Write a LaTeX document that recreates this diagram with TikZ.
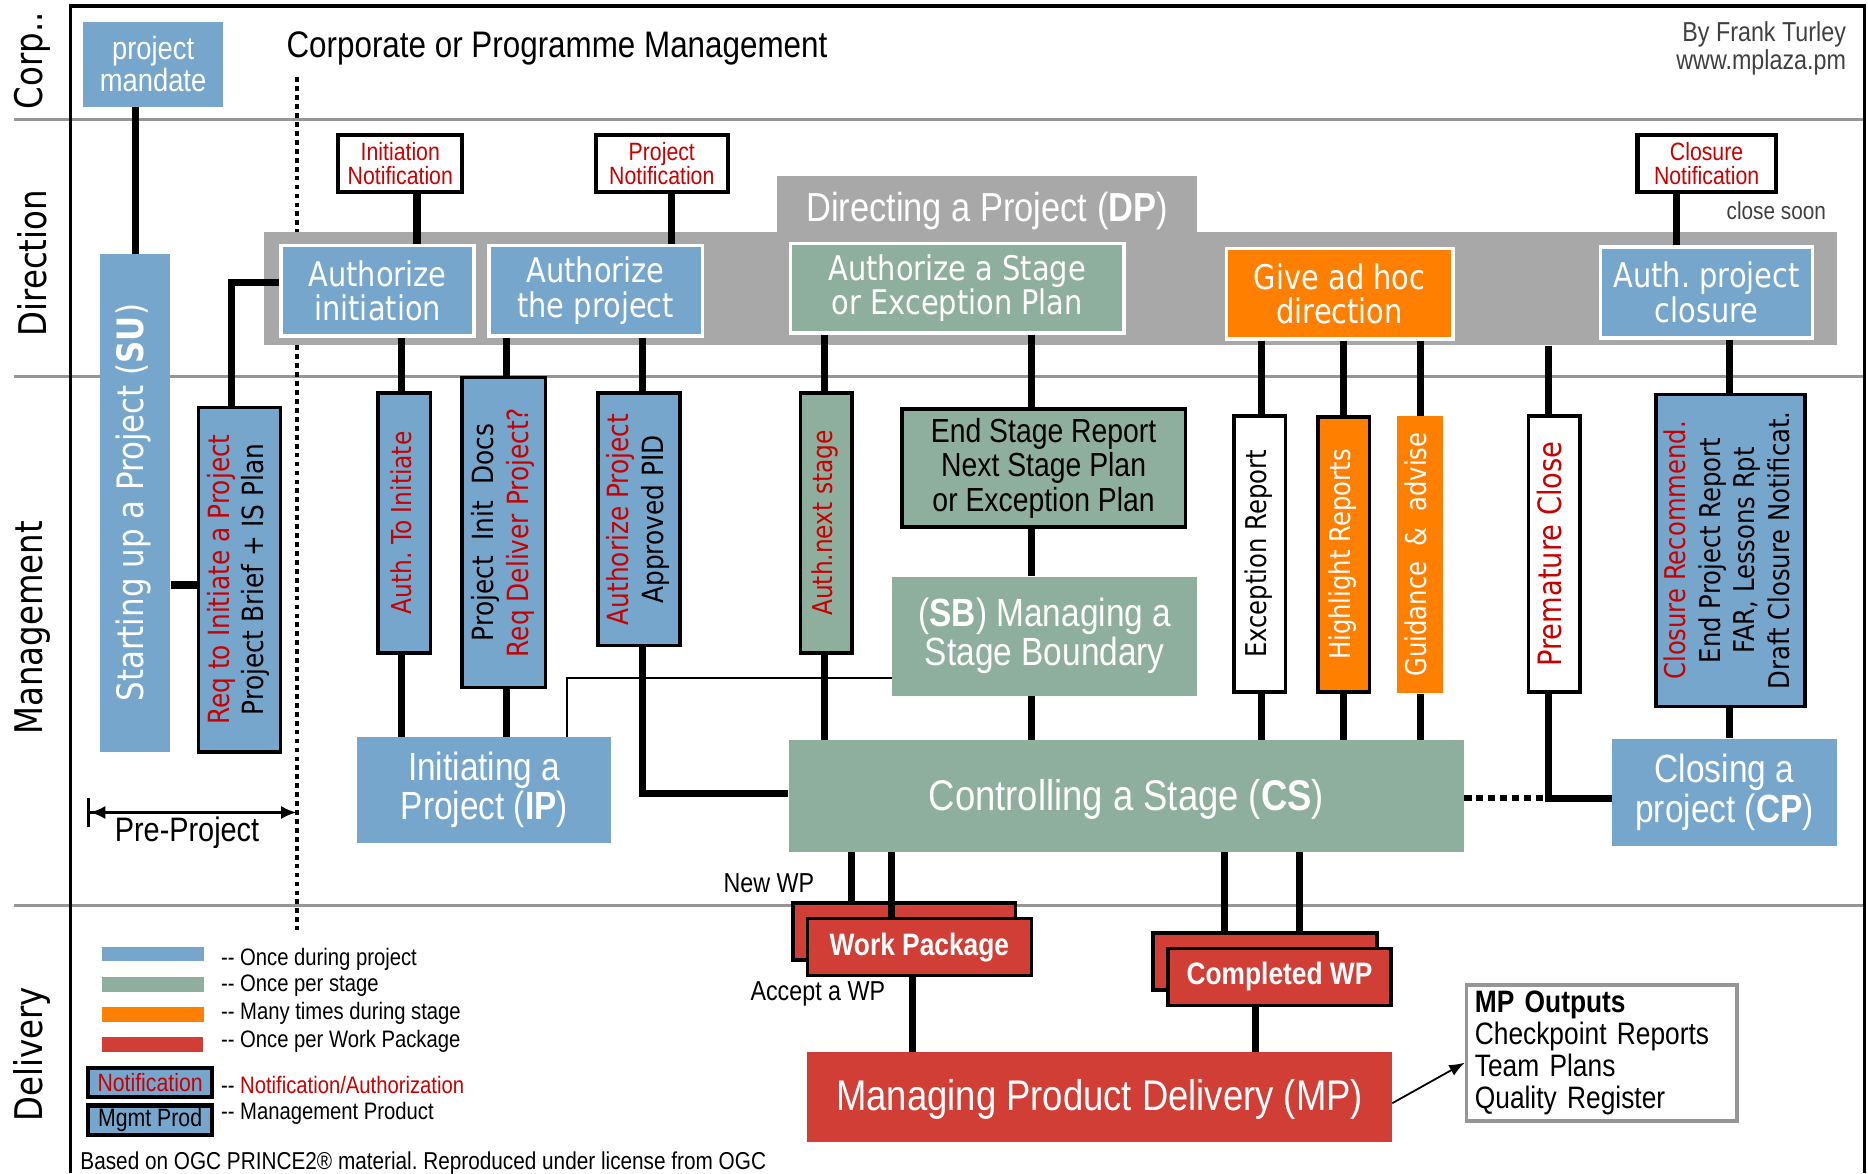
\documentclass[tikz,border=0pt]{standalone}
\usepackage{fontspec}
\usepackage{graphicx}
\setmainfont[FakeStretch=0.85]{Liberation Sans}
\newfontfamily\vfont[FakeStretch=0.85]{DejaVu Sans}
\usetikzlibrary{arrows.meta}
\definecolor{pblue}{RGB}{118,166,204}
\definecolor{pgreen}{RGB}{143,175,158}
\definecolor{porange}{RGB}{255,127,0}
\definecolor{pred}{RGB}{209,62,54}
\definecolor{pgray}{RGB}{168,168,168}
\definecolor{tred}{RGB}{200,0,0}
\definecolor{lanegray}{RGB}{150,150,150}
\definecolor{dgray}{RGB}{64,64,64}
\frenchspacing
\newcommand\myfz[2]{\fontsize{#1pt}{#2pt}\selectfont}
\newcommand\myrot[1]{\rotatebox{90}{\begin{tabular}{@{}c@{}}#1\end{tabular}}}
\newcommand\mylower[2]{\raisebox{-#1pt}[\height][\depth]{#2}}
\tikzset{
  box/.style={rectangle, inner sep=0pt, align=center},
  sz/.style 2 args={minimum width=#1pt, minimum height=#2pt},
  wb/.style={draw=white, line width=3pt},
  prod/.style={draw=black, line width=3pt},
  notif/.style={box, draw=black, fill=white, line width=3.5pt, text=tred, font=\myfz{21}{20}},
  dpbox/.style={box, wb, text=white, font=\vfont\myfz{28.5}{29}},
  rtext/.style={font=\vfont\myfz{24.5}{29}},
  conn/.style={line width=6pt},
  thinc/.style={line width=2pt},
  lane/.style={draw=lanegray, line width=2.5pt},
  lanelbl/.style={rotate=90, font=\vfont\myfz{32}{32}},
  leg/.style={anchor=west, font=\myfz{20}{20}},
}
\begin{document}
\begin{tikzpicture}[x=1pt, y=-1pt]
\useasboundingbox (0,0) rectangle (1568,985);
% lanes and frame
\draw[lane] (12,100) -- (1565,100);
\draw[lane] (12,316) -- (1565,316);
\draw[lane] (12,760) -- (1565,760);
\draw[line width=2.8pt] (59,985) -- (59,5) -- (1565,5) -- (1565,985);
\node[lanelbl] (lcorp) at (27,51) {Corp..};
\node[lanelbl] (ldir) at (27,221) {Direction};
\node[lanelbl] (lman) at (27,527) {Management};
\node[lanelbl] (ldel) at (27,885) {Delivery};
% pre-project dotted divider
\coordinate (dtop) at (249,65);
\coordinate (dbot) at (249,781);
\draw[line width=3.6pt, dash pattern=on 4pt off 3.5pt] (dtop) -- (dbot);

% corporate
\node[box, fill=pblue, text=white, sz={117}{71}, font=\myfz{27}{27}] (mandate) at (128.5,54) {project\\mandate};
\node[anchor=west, font=\myfz{31}{31}] (corp) at (237,41) {Corporate or Programme Management};
\node[anchor=east, align=right, text=dgray, font=\myfz{23}{24}] (author) at (1553,40.5) {By Frank Turley\\www.mplaza.pm};

% direction
\node[box, fill=pgray, sz={1320}{95}] (band) at (882,242.5) {};
\node[box, fill=pgray, text=white, sz={353}{49}, font=\myfz{34}{34}] (dptab) at (828.5,172.5) {\mylower{5}{Directing a Project (\textbf{DP})}};
\node[notif, sz={104}{48}] (initN) at (336,137.5) {Initiation\\Notification};
\node[notif, sz={111}{48}] (projN) at (555.5,137.5) {Project\\Notification};
\node[notif, sz={116}{48}] (closN) at (1432.5,137.5) {Closure\\Notification};
\node[text=dgray, font=\myfz{20.5}{20.5}] (closesoon) at (1491,177) {close soon};
\node[dpbox, fill=pblue, sz={162}{76}] (ai) at (317,244) {Authorize\\initiation};
\node[dpbox, fill=pblue, sz={179}{76}] (atp) at (500,244) {Authorize\\the project};
\node[dpbox, fill=pgreen, sz={280}{75}] (aas) at (803.5,242) {Authorize a Stage\\or Exception Plan};
\node[dpbox, fill=porange, sz={190}{76}] (gah) at (1124.5,246.5) {Give ad hoc\\direction};
\node[dpbox, fill=pblue, sz={178}{76}] (apc) at (1432.5,245.5) {Auth. project\\closure};

% management
\node[box, fill=pblue, text=white, sz={59}{418}, font=\vfont\myfz{30.5}{30}] (su) at (113.5,422) {\myrot{Starting up a Project (\textbf{SU})}};
\node[box, prod, fill=pblue, sz={69}{289}, rtext] (req) at (201,486.5) {\myrot{\color{tred}Req to Initiate a Project\\Project Brief + IS Plan}};
\node[box, prod, fill=pblue, text=tred, sz={44}{218}, font=\vfont\myfz{23}{28}] (ati) at (339.5,439) {\myrot{Auth. To Initiate}};
\node[box, prod, fill=pblue, sz={70}{260}, rtext] (pid) at (423,447) {\myrot{Project\ \ Init\ \ Docs\\\color{tred}Req Deliver Project?}};
\node[box, prod, fill=pblue, sz={69}{212}, rtext] (ap) at (536.5,436) {\myrot{\color{tred}Authorize Project\\Approved PID}};
\node[box, prod, fill=pgreen, text=tred, sz={43}{218}, font=\vfont\myfz{23}{28}] (ans) at (693.5,439) {\myrot{Auth.next stage}};
\node[box, prod, fill=pgreen, sz={238}{99}, font=\myfz{28}{29}] (esr) at (876,393) {End Stage Report\\Next Stage Plan\\or Exception Plan};
\node[box, fill=pgreen, text=white, sz={256}{100}, font=\myfz{33}{33}] (sb) at (877,534) {(\textbf{SB}) Managing a\\Stage Boundary};
\node[box, fill=pblue, text=white, sz={213}{89}, font=\myfz{33}{33}] (ip) at (406.5,663) {Initiating a\\Project (\textbf{IP})};
\node[box, fill=pgreen, text=white, sz={567}{94}, font=\myfz{36}{36}] (cs) at (945.5,668) {\mylower{3}{Controlling a Stage (\textbf{CS})}};
\node[box, prod, fill=white, sz={43}{232}, font=\vfont\myfz{24}{28}] (exr) at (1057.5,465) {\myrot{Exception Report}};
\node[box, prod, fill=porange, text=white, sz={43}{231}, font=\vfont\myfz{24}{28}] (hr) at (1128,465.5) {\myrot{Highlight Reports}};
\node[box, fill=porange, text=white, sz={39}{233}, font=\vfont\myfz{24}{28}] (ga) at (1192,465.5) {\myrot{Guidance\ \ \&\ \ advise}};
\node[box, prod, fill=white, text=tred, sz={43}{232}, font=\vfont\myfz{27}{28}] (pc) at (1304.5,465) {\myrot{Premature Close}};
\node[box, prod, fill=pblue, sz={125}{262}, font=\vfont\myfz{24}{29}] (cr) at (1452.5,462) {\myrot{\color{tred}Closure Recommend.\\End Project Report\\FAR, Lessons Rpt\\Draft Closure Notificat.}};
\node[box, fill=pblue, text=white, sz={189}{90}, font=\myfz{33}{33}] (cp) at (1447.5,665) {Closing a\\project (\textbf{CP})};
\coordinate (ppL) at (73,682);
\coordinate (ppR) at (249,682);
\draw[line width=2.4pt, {Bar[width=25pt]Latex[length=13pt,width=11pt]}-{Latex[length=13pt,width=11pt]}] (ppL) -- (ppR);
\node[font=\myfz{28.5}{28.5}] (preproj) at (157,699) {Pre-Project};

% delivery
\node[box, prod, fill=pred, sz={187}{48}] (wpb) at (759,782) {};
\node[box, prod, fill=pred, text=white, sz={188}{48}, font=\myfz{26}{26}] (wpf) at (771.7,795) {\textbf{Work Package}};
\node[box, prod, fill=pred, sz={188}{48}] (cwpb) at (1061.7,807) {};
\node[box, prod, fill=pred, text=white, sz={187}{48}, font=\myfz{26}{26}] (cwpf) at (1074,820) {\textbf{Completed WP}};
\node[box, fill=pred, text=white, sz={491}{76}, font=\myfz{36}{36}] (mp) at (923,921) {\mylower{2}{Managing Product Delivery (MP)}};
\node[box, draw=lanegray, line width=3pt, fill=white, sz={227}{114}, text width=213pt, align=left, font=\myfz{26}{27}] (mpo) at (1344.5,884) {\textbf{MP Outputs}\\Checkpoint Reports\\Team Plans\\Quality Register};
\node[anchor=east, font=\myfz{23}{23}] (newwp) at (687,741) {New WP};
\node[font=\myfz{23}{23}] (accwp) at (686.5,834) {Accept a WP};

% legend
\fill[pblue] (86,795) rectangle (171,807);
\fill[pgreen] (86,820) rectangle (171,833);
\fill[porange] (86,845.5) rectangle (171,858);
\fill[pred] (86,870.5) rectangle (170,883);
\node[leg] (lg1) at (182,805) {-{}- Once during project};
\node[leg] (lg2) at (182,827) {-{}- Once per stage};
\node[leg] (lg3) at (182,851) {-{}- Many times during stage};
\node[leg] (lg4) at (182,874) {-{}- Once per Work Package};
\node[box, fill=pblue, draw=black, line width=3.5pt, text=tred, sz={104}{24}, font=\myfz{21}{21}] (lgN) at (126,908.5) {Notification};
\node[box, fill=pblue, draw=black, line width=3.5pt, sz={104}{25}, font=\myfz{21}{21}] (lgM) at (126,940.5) {Mgmt Prod};
\node[leg] (lg5) at (182,911) {-{}- \textcolor{tred}{Notification/Authorization}};
\node[leg] (lg6) at (182,934.5) {-{}- Management Product};
\node[anchor=west, font=\myfz{20.5}{20.5}] (footer) at (64,976) {Based on OGC PRINCE2® material. Reproduced under license from OGC};

% connectors
\draw[conn] (su.north |- mandate.south) -- (su.north);
\draw[conn] (su.east |- 0,491) -- (req.west |- 0,491);
\draw[conn] (194,0 |- req.north) |- (ai.west |- 0,237);
\draw[conn] (350,0 |- initN.south) -- (350,0 |- ai.north);
\draw[conn] (564,0 |- projN.south) -- (564,0 |- atp.north);
\draw[conn] (1407,0 |- closN.south) -- (1407,0 |- apc.north);
\draw[conn] (337,0 |- ai.south) -- (337,0 |- ati.north);
\draw[conn] (337,0 |- ati.south) -- (337,0 |- ip.north);
\draw[conn] (425,0 |- atp.south) -- (425,0 |- pid.north);
\draw[conn] (425,0 |- pid.south) -- (425,0 |- ip.north);
\draw[conn] (539,0 |- atp.south) -- (539,0 |- ap.north);
\draw[conn] (539,0 |- ap.south) |- (cs.west |- 0,666);
\draw[conn] (692,0 |- aas.south) -- (692,0 |- ans.north);
\draw[conn] (692,0 |- ans.south) -- (692,0 |- cs.north);
\draw[conn] (866,0 |- aas.south) -- (866,0 |- esr.north);
\draw[conn] (866,0 |- esr.south) -- (866,0 |- sb.north);
\draw[conn] (866,0 |- sb.south) -- (866,0 |- cs.north);
\draw[thinc] (sb.west |- 0,569) -| (476,0 |- ip.north);
\draw[conn] (1059,0 |- gah.south) -- (1059,0 |- exr.north);
\draw[conn] (1059,0 |- exr.south) -- (1059,0 |- cs.north);
\draw[conn] (1128,0 |- gah.south) -- (1128,0 |- hr.north);
\draw[conn] (1128,0 |- hr.south) -- (1128,0 |- cs.north);
\draw[conn] (1192,0 |- gah.south) -- (1192,0 |- ga.north);
\draw[conn] (1192,0 |- ga.south) -- (1192,0 |- cs.north);
\coordinate (pcj) at (1300,670);
\draw[conn] (pcj |- band.south) -- (pcj |- pc.north);
\draw[conn] (pcj |- pc.south) -- (pcj) -- (cp.west |- pcj);
\draw[line width=5.5pt, dash pattern=on 6pt off 4pt] (cs.east |- pcj) -- (pcj);
\draw[conn] (1452,0 |- apc.south) -- (1452,0 |- cr.north);
\draw[conn] (1452,0 |- cr.south) -- (1452,0 |- cp.north);
\draw[conn] (715,0 |- cs.south) -- (715,0 |- wpb.north);
\draw[conn] (748,0 |- cs.south) -- (748,0 |- wpf.north);
\draw[conn] (766,0 |- wpf.south) -- (766,0 |- mp.north);
\draw[conn] (1028,0 |- cs.south) -- (1028,0 |- cwpb.north);
\draw[conn] (1091,0 |- cs.south) -- (1091,0 |- cwpb.north);
\draw[conn] (1054,0 |- cwpf.south) -- (1054,0 |- mp.north);
\draw[line width=1.5pt, -{Latex[length=13pt,width=10pt]}] (mp.east |- 0,926) -- (mpo.west |- 0,892);
\end{tikzpicture}
\end{document}
